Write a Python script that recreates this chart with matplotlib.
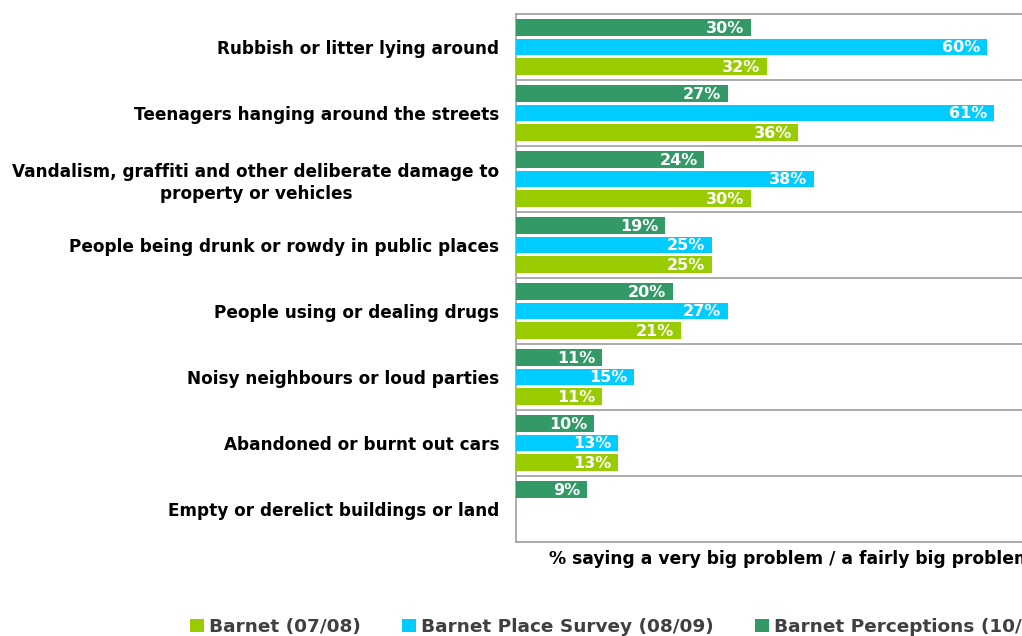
import matplotlib
matplotlib.use("Agg")
import matplotlib.pyplot as plt
import numpy as np
from matplotlib.patches import Patch

categories = [
    "Rubbish or litter lying around",
    "Teenagers hanging around the streets",
    "Vandalism, graffiti and other deliberate damage to\nproperty or vehicles",
    "People being drunk or rowdy in public places",
    "People using or dealing drugs",
    "Noisy neighbours or loud parties",
    "Abandoned or burnt out cars",
    "Empty or derelict buildings or land",
]
perceptions_1011 = [30, 27, 24, 19, 20, 11, 10, 9]
place_survey_0809 = [60, 61, 38, 25, 27, 15, 13, np.nan]
barnet_0708 = [32, 36, 30, 25, 21, 11, 13, np.nan]
series_names = ["Barnet (07/08)", "Barnet Place Survey (08/09)", "Barnet Perceptions (10/11)"]
colors = ["#99CC00", "#00CCFF", "#339966"]

W, H = 1022, 636
fig = plt.figure(figsize=(W / 100, H / 100), dpi=100)
ax = fig.add_axes([516 / W, 1 - 542 / H, 549 / W, 528 / H])

y = np.arange(len(categories))
off = 0.295
bh = 0.25
series = [(barnet_0708, off, colors[0]), (place_survey_0809, 0.0, colors[1]), (perceptions_1011, -off, colors[2])]
for vals, o, c in series:
    v = np.array(vals, dtype=float)
    m = ~np.isnan(v)
    bars = ax.barh(y[m] + o, v[m], height=bh, color=c, zorder=3)
    for b, val in zip(bars, v[m]):
        ax.text(b.get_width() - 0.85, b.get_y() + b.get_height() / 2 + 0.01, f"{int(val)}%",
                ha="right", va="center", color="white", fontweight="bold",
                fontsize=11.5, family="DejaVu Sans", zorder=4)

ax.set_xlim(0, 70)
ax.set_ylim(len(categories) - 0.5, -0.5)
ax.set_yticks(y)
ax.set_yticklabels(categories, fontsize=12.2, fontweight="bold", family="DejaVu Sans",
                   ha="right", multialignment="center", linespacing=1.3)
ax.set_yticks(np.arange(len(categories) + 1) - 0.5, minor=True)
ax.tick_params(axis="y", which="both", length=0)
ax.tick_params(axis="x", which="both", length=0, labelbottom=False)
ax.grid(axis="y", which="minor", color="#A6A6A6", linewidth=1.3, zorder=1)
ax.tick_params(axis="y", pad=12)
for s in ax.spines.values():
    s.set_color("#A6A6A6")
    s.set_linewidth(1.3)

ax.set_xlabel("% saying a very big problem / a fairly big problem", fontsize=12.3,
              fontweight="bold", family="DejaVu Sans", labelpad=6)

handles = [Patch(facecolor=c, edgecolor="none") for c in colors]
fig.legend(handles, series_names, loc="center left", bbox_to_anchor=(190 / W, 1 - 627 / H),
           ncol=3, frameon=False, prop={"family": "DejaVu Sans", "weight": "bold", "size": 13.3},
           labelcolor="#404040", handlelength=0.75, handleheight=0.75, handletextpad=0.3,
           columnspacing=2.2, borderaxespad=0, borderpad=0)

fig.savefig("out.png", dpi=100)
